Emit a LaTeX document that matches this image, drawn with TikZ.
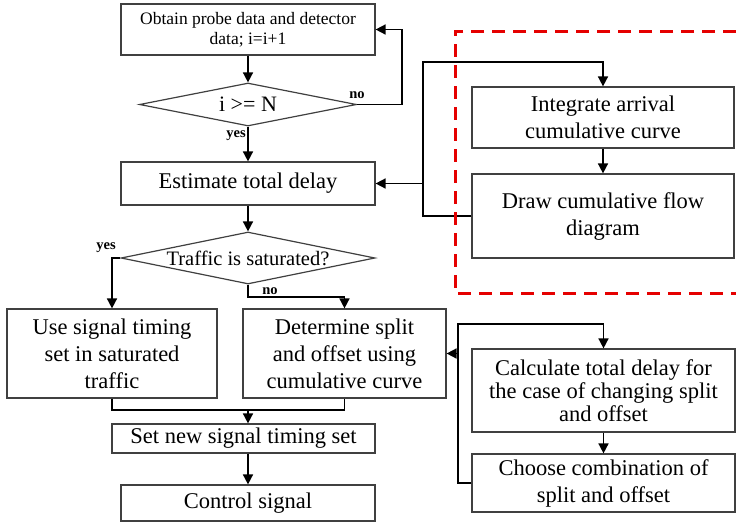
\documentclass[tikz,border=0pt]{standalone}
\usepackage{fontspec}
\setmainfont{Liberation Serif}
\usetikzlibrary{arrows.meta,shapes.geometric}
\tikzset{
	box/.style={draw=black!75, line width=1.2pt, fill=white, align=center, inner sep=0pt,
		font=\fontsize{22.5}{27}\selectfont},
	dec/.style={diamond, draw=black!75, line width=1.2pt, fill=white, inner sep=0pt},
	flow/.style={line width=1.6pt, -{Triangle[length=10pt, width=10pt]}},
	link/.style={line width=1.6pt},
	lbl/.style={font=\fontsize{14.5}{16}\selectfont\bfseries, inner sep=0pt},
	frame/.style={draw=red!90!black, line width=3pt, dash pattern=on 13pt off 8pt}
}
\begin{document}
\begin{tikzpicture}[x=1pt, y=-1pt]
		\useasboundingbox (0,0) rectangle (736,523);
		\node[box, minimum width=254pt, minimum height=51pt, font=\fontsize{17.5}{20}\selectfont] (obtain) at (248,29.5)
		{Obtain probe data and detector\\ data; i=i+1};
		\node[dec, minimum width=217pt, minimum height=43pt, aspect=5, font=\fontsize{22}{26}\selectfont] (check) at (248,104.5)
		{i >= N};
		\node[box, minimum width=254pt, minimum height=43pt] (estimate) at (248,183.5)
		{Estimate total delay};
		\node[dec, minimum width=254pt, minimum height=52pt, aspect=4.9, font=\fontsize{20.5}{24}\selectfont] (sat) at (248,258)
		{Traffic is saturated?};
		\node[box, minimum width=210pt, minimum height=89pt] (usesig) at (112,353.5)
		{Use signal timing\\ set in saturated\\ traffic};
		\node[box, minimum width=203pt, minimum height=89pt] (determine) at (344.5,353.5)
		{Determine split\\ and offset using\\ cumulative curve};
		\node[box, minimum width=263pt, minimum height=29pt] (setnew) at (243.5,438.5)
		{Set new signal timing set};
		\node[box, minimum width=254pt, minimum height=36pt] (control) at (248,503)
		{Control signal};
		\node[box, minimum width=262pt, minimum height=61pt] (integrate) at (603,117.5)
		{Integrate arrival\\ cumulative curve};
		\node[box, minimum width=262pt, minimum height=84pt] (drawcum) at (603,216)
		{Draw cumulative flow\\ diagram};
		\node[box, minimum width=263pt, minimum height=83pt, font=\fontsize{22.5}{23}\selectfont] (calc) at (603.5,390.5)
		{Calculate total delay for\\ the case of changing split\\ and offset};
		\node[box, minimum width=263pt, minimum height=58pt] (choose) at (603.5,483)
		{Choose combination of\\ split and offset};
		\coordinate (backA) at (402,104.5);
		\coordinate (busA) at (423,62);
		\coordinate (busB) at (423,216);
		\coordinate (tapA) at (423,183.5);
		\coordinate (nobend) at (248,297);
		\coordinate (merge) at (248,410);
		\coordinate (busC) at (458,324);
		\coordinate (busD) at (458,483);
		\coordinate (tapB) at (458,353.5);
		\draw[flow] (obtain) -- (check);
		\draw[flow] (check.east) -- (backA) |- (obtain.east);
		\draw[flow] (check) -- (estimate);
		\draw[flow] (drawcum.west) -- (busB) -- (busA) -| (integrate.north);
		\draw[flow] (tapA) -- (estimate.east);
		\draw[flow] (integrate) -- (drawcum);
		\draw[flow] (estimate) -- (sat);
		\draw[flow] (sat.west) -| (usesig.north);
		\draw[flow] (sat.south) -- (nobend) -| (determine.north);
		\draw[link] (usesig.south) |- (merge) -| (determine.south);
		\draw[flow] (merge) -- (merge |- setnew.north);
		\draw[flow] (setnew.south -| control.north) -- (control.north);
		\draw[flow] (choose.west) -- (busD) -- (busC) -| (calc.north);
		\draw[flow] (tapB) -- (determine.east);
		\draw[flow] (calc) -- (choose);
		\node[lbl] (noA) at (357,95) {no};
		\node[lbl, anchor=east] (yesA) at (246,136) {yes};
		\node[lbl] (yesB) at (106,248) {yes};
		\node[lbl] (noB) at (270,291) {no};
		\draw[frame] (736,31) -- (455,31) -- (455,293) -- (736,293);
	\end{tikzpicture}
\end{document}
